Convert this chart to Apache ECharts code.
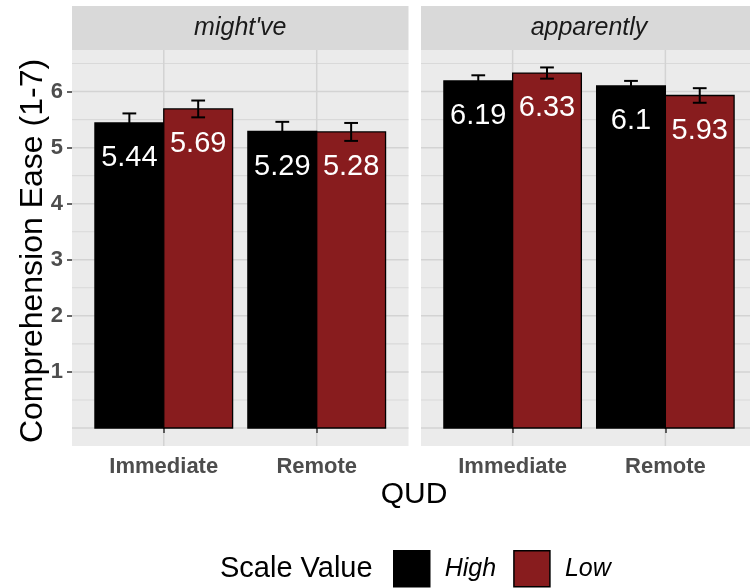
<!DOCTYPE html>
<html>
<head>
<meta charset="utf-8">
<script src="https://cdn.jsdelivr.net/npm/echarts@6/dist/echarts.min.js"></script>
<style>html,body{margin:0;padding:0;background:#fff;overflow:hidden;width:750px;height:588px;}#chart{width:760px;height:588px;}</style>
</head>
<body>
<div id="chart"></div>
<script>
// ---- data ----
const categories = ['Immediate', 'Remote'];
const facets = ["might've", 'apparently'];
const groups = ['High', 'Low'];
const mightveHigh = [5.44, 5.29];
const mightveLow = [5.69, 5.28];
const apparentlyHigh = [6.19, 6.10];
const apparentlyLow = [6.33, 5.93];
const mightveHighErr = [0.17, 0.17];
const mightveLowErr = [0.15, 0.16];
const apparentlyHighErr = [0.10, 0.09];
const apparentlyLowErr = [0.10, 0.13];
const yTickLabels = [1, 2, 3, 4, 5, 6];
const yMajorGrid = [0, 1, 2, 3, 4, 5, 6];
const yMinorGrid = [0.5, 1.5, 2.5, 3.5, 4.5, 5.5, 6.5];

const groupColors = { High: '#000000', Low: '#881C1E' };
const FONT = "'Liberation Sans', Arial, Helvetica, sans-serif";

const facetData = [
  { High: mightveHigh, Low: mightveLow, HighErr: mightveHighErr, LowErr: mightveLowErr },
  { High: apparentlyHigh, Low: apparentlyLow, HighErr: apparentlyHighErr, LowErr: apparentlyLowErr }
];

const chart = echarts.init(document.getElementById('chart'), null, { renderer: 'canvas' });

const gridBoxes = [
  { left: 72, top: 50, width: 336.5, height: 396 },
  { left: 421, top: 50, width: 336, height: 396 }
];

const grids = gridBoxes.map(b => Object.assign({}, b, {
  show: true, backgroundColor: '#EBEBEB', borderWidth: 0, containLabel: false
}));

const xAxes = gridBoxes.map((b, i) => ({
  type: 'value', gridIndex: i, min: 0.4, max: 2.6,
  splitLine: { show: false }, axisLine: { show: false },
  axisTick: { show: true, customValues: [1, 2], length: 5, lineStyle: { color: '#333333', width: 1.5 } },
  axisLabel: {
    show: true, customValues: [1, 2], margin: 10,
    formatter: v => categories[Math.round(v) - 1],
    color: '#4D4D4D', fontWeight: 'bold', fontSize: 22, fontFamily: FONT
  }
}));

const yAxes = gridBoxes.map((b, i) => ({
  type: 'value', gridIndex: i, min: -0.321, max: 6.741,
  splitLine: { show: false }, axisLine: { show: false },
  axisTick: { show: i === 0, customValues: yTickLabels, length: 5, lineStyle: { color: '#333333', width: 1.5 } },
  axisLabel: {
    show: i === 0, customValues: yTickLabels, margin: 9,
    color: '#4D4D4D', fontWeight: 'bold', fontSize: 22, fontFamily: FONT
  }
}));

const series = [];

// gridlines
gridBoxes.forEach((b, gi) => {
  const lines = []
    .concat(yMajorGrid.map(v => [0, v]))
    .concat(yMinorGrid.map(v => [1, v]))
    .concat([1, 2].map(v => [2, v]));
  series.push({
    type: 'custom', xAxisIndex: gi, yAxisIndex: gi, silent: true, z: 0,
    data: lines,
    renderItem: function (params, api) {
      const kind = api.value(0), v = api.value(1);
      let p1, p2;
      if (kind === 2) { p1 = api.coord([v, -0.321]); p2 = api.coord([v, 6.741]); }
      else { p1 = api.coord([0.4, v]); p2 = api.coord([2.6, v]); }
      return {
        type: 'line',
        shape: { x1: p1[0], y1: p1[1], x2: p2[0], y2: p2[1] },
        style: { stroke: kind === 1 ? '#D9D9D9' : '#D3D3D3', lineWidth: kind === 1 ? 1.1 : 1.5 }
      };
    }
  });
});

// bars + error bars + labels
facetData.forEach((fd, gi) => {
  groups.forEach((g, k) => {
    const vals = fd[g], errs = fd[g + 'Err'];
    const offset = k === 0 ? -0.225 : 0.225;
    series.push({
      type: 'custom', name: g, xAxisIndex: gi, yAxisIndex: gi, z: 2,
      itemStyle: { color: groupColors[g], borderColor: '#000', borderWidth: 1.5 },
      data: vals.map((v, ci) => [ci + 1, v, errs[ci]]),
      renderItem: function (params, api) {
        const x = api.value(0) + offset, v = api.value(1), e = api.value(2);
        const tl = api.coord([x - 0.225, v]);
        const br = api.coord([x + 0.225, 0]);
        const eTop = api.coord([x, v + e]);
        const eBot = api.coord([x, v - e]);
        const capL = api.coord([x - 0.045, 0])[0];
        const capR = api.coord([x + 0.045, 0])[0];
        const lab = api.coord([x, v - 0.63]);
        return {
          type: 'group',
          children: [
            { type: 'rect', shape: { x: tl[0], y: tl[1], width: br[0] - tl[0], height: br[1] - tl[1] },
              style: { fill: groupColors[g], stroke: '#000', lineWidth: 1.3 } },
            { type: 'line', z2: 5, shape: { x1: eTop[0], y1: eTop[1], x2: eBot[0], y2: eBot[1] },
              style: { stroke: '#000', lineWidth: 2 } },
            { type: 'line', z2: 5, shape: { x1: capL, y1: eTop[1], x2: capR, y2: eTop[1] },
              style: { stroke: '#000', lineWidth: 2 } },
            { type: 'line', z2: 5, shape: { x1: capL, y1: eBot[1], x2: capR, y2: eBot[1] },
              style: { stroke: '#000', lineWidth: 2 } },
            { type: 'text', z2: 6, x: lab[0], y: lab[1],
              style: { text: String(v), fill: '#FFFFFF', fontSize: 29, fontFamily: FONT,
                       align: 'center', verticalAlign: 'middle' } }
          ]
        };
      }
    });
  });
});

const graphics = [];
gridBoxes.forEach((b, i) => {
  graphics.push({ type: 'rect', left: b.left, top: 6, shape: { width: b.width, height: 44 },
    style: { fill: '#D9D9D9' }, z: 1 });
  graphics.push({ type: 'text', x: b.left + b.width / 2, y: 28, z: 2,
    style: { text: facets[i], fill: '#1A1A1A', fontSize: 25, fontStyle: 'italic', fontFamily: FONT,
             align: 'center', verticalAlign: 'middle' } });
});
graphics.push({ type: 'text', x: 414, y: 495, z: 2,
  style: { text: 'QUD', fill: '#000', fontSize: 30, fontFamily: FONT, align: 'center', verticalAlign: 'middle' } });
graphics.push({ type: 'text', x: 33, y: 251, rotation: Math.PI / 2, z: 2,
  style: { text: 'Comprehension Ease (1-7)', fill: '#000', fontSize: 32, fontFamily: FONT, align: 'center', verticalAlign: 'middle' } });
graphics.push({ type: 'text', x: 220, y: 569, z: 2,
  style: { text: 'Scale Value', fill: '#000', fontSize: 29, fontFamily: FONT, align: 'left', verticalAlign: 'middle' } });

chart.setOption({
  animation: false,
  grid: grids,
  xAxis: xAxes,
  yAxis: yAxes,
  legend: {
    data: groups, left: 388, top: 545, orient: 'horizontal',
    icon: 'rect', itemWidth: 36, itemHeight: 36, itemGap: 17,
    itemStyle: { borderColor: '#000', borderWidth: 1.5 },
    textStyle: { fontSize: 25, fontStyle: 'italic', fontFamily: FONT, color: '#000', padding: [0, 0, 0, 10] },
    selectedMode: false
  },
  graphic: graphics,
  series: series
});
</script>
</body>
</html>
